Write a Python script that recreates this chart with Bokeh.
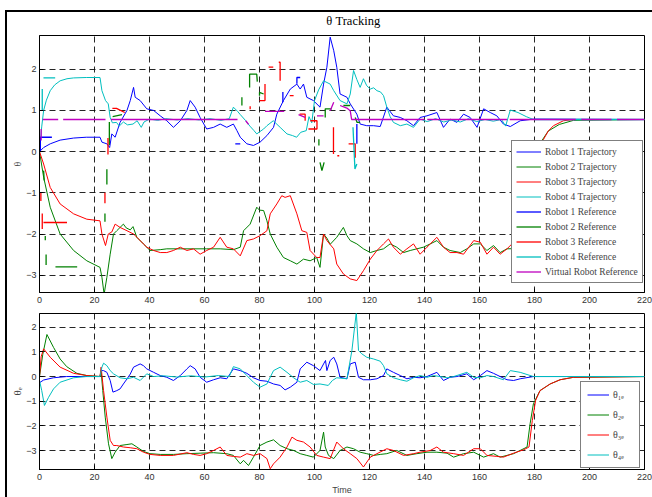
from bokeh.plotting import figure
from bokeh.layouts import column
from bokeh.models import Range1d, FixedTicker, Legend, LegendItem, Label
from bokeh.embed import file_html
from bokeh.resources import INLINE

# ---------------- data (time, value) ----------------
x_ticks = [0, 20, 40, 60, 80, 100, 120, 140, 160, 180, 200, 220]
y_ticks_top = [-3, -2, -1, 0, 1, 2]
y_ticks_bot = [-3, -2, -1, 0, 1, 2]

robot1_traj = [(0,0),(1.5,0.1),(3.9,0.19),(7.5,0.28),(12.4,0.33),(17,0.35),(22,0.35),(22.7,0.23),(24.5,0.19),(25.5,0.1),(26.3,0.43),(27.5,0.35),(29.3,0.71),(31.8,1.0),(33,1.24),(34.2,1.56),(34.8,1.32),(36.6,1.24),(39,1.04),(41.5,1.0),(43.9,0.87),(46.3,0.75),(48.7,0.59),(51.2,0.75),(53.6,1.0),(54.8,1.24),(56.6,1.08),(58.4,0.83),(60.8,0.55),(63.3,0.59),(65.7,0.67),(68.1,0.59),(70.5,0.67),(71.8,0.51),(73,0.35),(75.4,0.19),(77.8,0.15),(80.2,0.23),(82.7,0.39),(85.1,0.59),(86.3,0.91),(88.7,1.24),(91.2,1.52),(93.6,1.64),(94.8,1.52),(96,1.64),(97.2,1.32),(99.6,1.24),(102,1.08),(103.3,1.64),(104.5,2.05),(105.7,2.78),(107,2.45),(108.1,2.05),(109.3,1.4),(111.8,1.32),(113,1.16),(115.4,0.91),(116.6,0.67),(119,0.63),(121.5,0.63),(123.9,0.61),(126.3,1.08),(128.7,0.87),(131.2,0.83),(133.6,0.75),(136,0.63),(138.4,0.83),(140.9,0.87),(144.5,0.95),(146.9,0.59),(149.3,0.79),(151.8,0.71),(154.2,0.91),(156.6,0.83),(159.1,0.59),(161.5,1.04),(163.9,0.95),(166.3,0.87),(168.7,0.67),(171.2,0.61),(174.8,0.75),(179.6,0.79),(220,0.78)]

robot2_traj = [(0,0),(1.5,-0.62),(3.9,-1.35),(7.5,-2.0),(12.4,-2.4),(17.2,-2.65),(22,-2.81),(22.7,-3.05),(23.5,-3.46),(24.5,-3.05),(25.7,-2.49),(26.9,-2.0),(28.1,-1.92),(30.5,-1.76),(31.5,-1.85),(33,-1.9),(34,-1.82),(35.4,-2.08),(37.8,-2.24),(40.2,-2.4),(43.9,-2.38),(46.3,-2.36),(51.2,-2.36),(56,-2.36),(60.8,-2.36),(65.7,-2.36),(70.5,-2.38),(73,-2.32),(74.2,-1.92),(76.6,-1.76),(79,-1.35),(80,-1.42),(81.5,-1.43),(82.7,-1.68),(83.9,-2.0),(86.3,-2.32),(88.7,-2.57),(91.2,-2.65),(93.6,-2.73),(96,-2.61),(98.4,-2.65),(100.8,-2.57),(102,-2.81),(103.3,-2.0),(104.5,-2.1),(105.7,-2.25),(108.1,-2.08),(110.5,-1.84),(111.8,-2.04),(113,-2.16),(115.4,-2.24),(117.8,-2.36),(120.3,-2.45),(122.7,-2.4),(125.1,-2.36),(127.5,-2.24),(129.9,-2.32),(132.4,-2.45),(134.8,-2.4),(137.2,-2.36),(139.6,-2.32),(142.1,-2.24),(144.5,-2.16),(146.9,-2.32),(149.3,-2.4),(153,-2.45),(155.4,-2.36),(157.9,-2.24),(160.3,-2.24),(162.7,-2.4),(165.1,-2.28),(167.5,-2.45),(170,-2.36),(175,-2.35),(178,-2.3),(179.2,-1.2),(180.4,-0.4),(182,0.2),(185,0.5),(189,0.66),(194.2,0.76),(220,0.78)]

robot3_traj = [(0,0),(1.5,-0.3),(3.9,-0.87),(7.5,-1.27),(12.4,-1.51),(17.2,-1.64),(22,-1.68),(22.7,-2.0),(24,-2.28),(25,-2.0),(26.3,-1.95),(27.5,-1.76),(29.3,-1.84),(31.8,-1.92),(34.2,-2.0),(36.6,-2.16),(39,-2.32),(41.5,-2.4),(43.9,-2.45),(46.3,-2.45),(48.7,-2.4),(51.2,-2.32),(53.6,-2.4),(56,-2.36),(58.4,-2.49),(60.8,-2.4),(63.3,-2.32),(65.7,-2.08),(68.1,-2.32),(70.5,-2.36),(73,-2.53),(75.4,-2.16),(77.8,-2.12),(80.2,-2.04),(82.7,-1.92),(83.9,-1.51),(86.3,-1.27),(88.1,-1.07),(89.3,-1.11),(91.2,-1.07),(93.6,-1.51),(95.4,-1.92),(97.2,-1.96),(98.4,-2.4),(100.8,-2.57),(102,-2.57),(103.3,-2.0),(104.5,-2.16),(107,-2.36),(108.1,-2.73),(110.5,-2.97),(113,-3.09),(115.4,-3.13),(117.8,-2.89),(120.3,-2.61),(122.7,-2.4),(125.1,-2.24),(126.9,-2.12),(128.7,-2.32),(131.2,-2.49),(133.6,-2.36),(136,-2.24),(138.4,-2.49),(140.9,-2.32),(144.5,-2.08),(146.9,-2.32),(149.3,-2.45),(151.8,-2.45),(154.2,-2.49),(157.9,-2.16),(160.3,-2.2),(162.7,-2.49),(165.1,-2.32),(167.5,-2.49),(170,-2.36),(171.8,-2.24),(175,-2.3),(178,-2.25),(179.2,-1.0),(180.4,-0.2),(182,0.15),(183.3,0.3),(185,0.5),(186.9,0.63),(190.5,0.75),(194.2,0.78),(220,0.78)]

robot4_traj = [(0,0),(0.8,0.6),(1.5,1.0),(2.5,1.25),(3.9,1.48),(5.5,1.62),(7.5,1.72),(10,1.77),(12.4,1.79),(17,1.8),(22,1.8),(22.7,1.48),(24,1.24),(25,1.16),(25.7,0.83),(26.5,0.7),(28,0.71),(29,0.62),(30.5,0.72),(32,0.65),(34,0.67),(35.5,0.75),(37,0.59),(38,0.72),(40,0.79),(43,0.76),(46,0.8),(50,0.77),(54,0.8),(58,0.77),(62,0.8),(66,0.76),(69,0.8),(70.5,1.08),(72,0.98),(73,0.9),(75,0.75),(76.5,0.62),(78,0.51),(79,0.43),(80,0.48),(81.5,0.55),(82.7,0.63),(85,0.75),(87.5,0.59),(90,0.43),(92,0.39),(93.5,0.35),(95,0.47),(97,0.51),(98,0.85),(99,0.7),(100,1.24),(101.5,1.5),(103.3,1.72),(105.7,1.64),(107,1.48),(109.3,1.24),(111.8,1.16),(113,1.4),(114.2,1.97),(115.4,1.75),(116.6,1.56),(117.8,1.77),(119,1.6),(120.3,1.52),(121.5,1.55),(122.7,1.48),(124,1.45),(125.1,1.36),(126.3,1.08),(127.5,0.85),(128.7,0.71),(131.2,0.63),(133.6,0.67),(136,0.59),(138.4,0.79),(141,0.73),(144,0.8),(147,0.72),(150,0.77),(153,0.72),(156,0.8),(159,0.73),(162,0.78),(165,0.74),(168,0.78),(169.5,0.62),(171.2,1.01),(174,0.95),(177,0.85),(179.6,0.78),(220,0.78)]

# reference signals: only sampled in pieces (gaps between pieces)
robot1_ref = [[(0.3,0.0),(0.3,0.35),(4.5,0.35)],
              [(71.2,0.19),(73.0,0.19)],
              [(88.5,1.2),(88.5,1.45)],
              [(93.6,1.65),(93.6,1.8),(94.8,1.8)],
              [(115.4,0.67),(115.4,0.19)]]

robot2_ref = [[(1.5,-0.46),(1.7,-0.7)],
              [(2.1,-2.05),(2.1,-2.15)],
              [(2.4,-2.5),(2.4,-2.75)],
              [(5.8,-2.8),(13.7,-2.8)],
              [(23.8,-1.5),(23.8,-1.7)],
              [(24.5,-0.43),(24.5,-0.8)],
              [(25.4,0.16),(25.4,0.72)],
              [(26.6,0.85),(30.0,0.9)],
              [(73.6,1.12),(73.6,1.32)],
              [(76.4,1.56),(76.4,1.88),(79.0,1.88),(79.2,1.7)],
              [(80.0,1.36),(80.0,1.44),(81.5,1.4)],
              [(101.6,0.15),(101.6,0.3)],
              [(102.0,-0.26),(102.7,-0.46),(103.5,-0.26)],
              [(103.9,0.83),(103.9,1.04),(106.3,1.04)],
              [(110.5,1.12),(113.0,1.12)],
              [(114.8,0.83),(115.5,0.71),(116.6,0.71)]]

robot3_ref = [[(0.5,-1.0),(0.5,-1.2)],
              [(1.0,-1.5),(1.0,-1.88)],
              [(1.45,-1.72),(10.0,-1.72)],
              [(23.8,-1.0),(23.8,-1.25)],
              [(24.9,-0.07),(24.9,0.33)],
              [(26.5,1.05),(28.0,1.05),(31.0,0.95)],
              [(76.6,1.03),(76.6,1.1)],
              [(80.0,1.24),(82.0,1.24),(82.0,1.64)],
              [(83.3,2.05),(85.0,2.05)],
              [(87.0,2.17),(87.5,2.17),(87.5,1.72)],
              [(91.0,1.36),(92.4,1.36)],
              [(94.6,0.91),(96.6,0.91),(96.6,0.75)],
              [(97.8,0.55),(100.9,0.55),(100.9,0.75),(98.5,0.75)],
              [(106.9,0.59),(106.9,-0.06)],
              [(108.3,-0.1),(109.0,-0.1)],
              [(112.4,0.19),(114.8,0.19),(114.8,-0.15)]]

robot4_ref = [[(1.0,1.0),(1.0,1.52)],
              [(1.45,1.79),(5.7,1.79)],
              [(114.0,0.59),(114.7,-0.42),(115.4,-0.3)],
              [(180.0,0.78),(220.0,0.78)]]

virtual_ref = [[(0.6,0.27),(0.6,0.55)],
               [(1.2,0.78),(6.8,0.78)],
               [(8.6,0.78),(24.0,0.78)],
               [(26.0,0.78),(72.0,0.78)],
               [(75.0,0.75),(76.0,0.66)],
               [(82.0,0.98),(89.0,0.98)],
               [(94.2,0.9),(96.6,0.83)],
               [(100.9,0.87),(103.3,0.87)],
               [(105.7,0.99),(107.0,1.2)],
               [(109.3,1.12),(112.0,1.05),(113.0,0.99),(113.5,0.78),(140.0,0.78)],
               [(141.0,0.78),(170.0,0.78)],
               [(171.0,0.78),(195.0,0.78)],
               [(197.0,0.78),(208.0,0.78)],
               [(210.0,0.78),(220.0,0.78)]]

theta1e = [(0,-0.25),(1.5,-0.14),(5.1,-0.05),(9.9,0),(22,0),(22.6,0.24),(23.3,0.24),(24.5,0.17),(25.7,-0.16),(26.7,-0.63),(28.1,-0.57),(29.3,-0.5),(30.5,-0.3),(31.8,-0.1),(33,0.1),(34.2,0.38),(35.5,0.45),(36.6,0.51),(37.8,0.44),(39,0.31),(41.5,0.17),(43.9,0.04),(46.3,-0.03),(48.7,-0.16),(51.2,0.04),(53.6,0.31),(54.8,0.44),(56.6,0.31),(58.4,-0.03),(60.8,-0.23),(63.3,-0.13),(65.7,-0.05),(68.1,-0.09),(70.5,0.31),(73,0.24),(75.4,0.13),(77.8,-0.05),(80.2,-0.16),(82.7,-0.19),(85.1,-0.3),(87.5,-0.36),(89.3,-0.54),(91.2,-0.43),(93.6,-0.23),(94.8,0.31),(97.2,0.58),(99.6,0.44),(102,0.24),(103.3,0.51),(104,0.65),(104.5,0.24),(105.7,0.65),(107,0.78),(108.1,0.51),(109.3,-0.03),(111.8,-0.09),(113,0.51),(114.8,0.58),(116,-0.03),(117.8,-0.13),(120.3,-0.13),(122.7,-0.09),(125.1,0.04),(126.3,0.31),(128.7,0.17),(131.2,0.04),(133.6,-0.09),(136,-0.03),(138.4,-0.05),(140.9,0),(144.5,0.17),(146.9,-0.16),(149.3,-0.03),(151.8,0),(155.4,0.11),(157.9,-0.13),(160.3,0.04),(162.7,0.24),(165.1,0.13),(167.5,0),(170,-0.13),(172.4,-0.16),(174.8,-0.09),(179.6,0),(220,0)]

theta2e = [(0,0),(1.2,0.9),(2.7,1.7),(5.1,1.18),(7.5,0.71),(9.9,0.4),(13.6,0.13),(17.2,0.04),(22,0),(22.4,0.24),(23,-0.57),(23.9,-1.64),(25.1,-2.72),(26.3,-3.32),(27.5,-3.06),(29.3,-2.79),(31.8,-2.75),(33.6,-2.72),(35.4,-2.85),(37.8,-3.03),(40.2,-3.12),(43.9,-3.15),(48.7,-3.15),(53.6,-3.12),(58.4,-3.1),(63.3,-3.08),(68.1,-3.12),(70.5,-3.19),(73,-3.53),(74.2,-3.39),(76,-3.6),(77.8,-3.26),(80.2,-2.79),(82.7,-2.65),(85.1,-2.56),(87.5,-2.79),(90,-2.92),(92.4,-2.99),(94.8,-3.12),(97.2,-3.19),(99.6,-3.26),(102,-2.99),(103.3,-2.25),(103.9,-2.85),(105.1,-3.19),(107,-3.32),(109.3,-2.99),(111.8,-2.85),(114.2,-2.92),(116.6,-3.06),(119,-3.12),(121.5,-3.19),(123.9,-3.15),(126.3,-3.12),(129.9,-2.99),(133.6,-3.19),(137.2,-3.12),(140.9,-3.06),(144.5,-3.06),(148.2,-3.1),(150.6,-3.26),(154.2,-3.12),(157.9,-3.06),(161.5,-3.26),(165.1,-3.12),(167.5,-3.26),(172.4,-3.12),(177.3,-2.85),(178.4,-1.91),(179.6,-1.1),(182,-0.57),(185.7,-0.3),(189.3,-0.13),(194.2,-0.03),(220,0)]

theta3e = [(0,0),(0.6,0.8),(1.5,1.12),(3.9,0.78),(7.5,0.38),(12.4,0.13),(17.2,0.04),(22,0),(22.4,0.38),(23.3,-0.57),(24.5,-1.64),(25.7,-2.58),(26.9,-2.79),(28.1,-2.79),(30.5,-2.85),(33,-2.88),(35.4,-2.92),(37.8,-3.06),(40.2,-3.15),(43.9,-3.19),(48.7,-3.19),(53.6,-3.08),(56,-3.15),(58.4,-3.19),(60.8,-3.12),(63.3,-2.99),(65.7,-2.85),(68.1,-3.19),(70.5,-3.23),(73,-3.26),(75.4,-3.12),(77.8,-3.19),(80.2,-3.12),(82.7,-3.32),(83.9,-3.73),(85.1,-3.53),(87.5,-3.26),(90,-2.85),(91.8,-2.45),(93.6,-2.58),(96,-2.65),(98.4,-2.85),(100.8,-3.19),(103.3,-3.26),(105.7,-3.32),(108.1,-2.65),(110.5,-2.92),(113,-3.12),(115.4,-3.32),(117.8,-3.66),(120.3,-3.26),(122.7,-3.12),(126.3,-2.92),(128.7,-2.99),(132.4,-3.19),(136,-3.12),(138.4,-3.06),(142.1,-2.99),(144.5,-2.85),(146.9,-3.06),(150.6,-3.12),(154.2,-3.19),(157.9,-2.92),(160.3,-2.92),(162.7,-3.19),(166.3,-3.23),(168.7,-3.26),(172.4,-3.1),(176.1,-2.96),(178,-2.85),(179.2,-1.78),(180.4,-0.97),(182,-0.57),(185.7,-0.3),(189.3,-0.13),(194.2,-0.03),(220,0)]

theta4e = [(0,-0.16),(0.8,-0.56),(1.8,-1.17),(3.3,-0.84),(5.1,-0.5),(7.5,-0.23),(12.4,-0.05),(17,0),(22,0),(22.7,0.38),(23.3,0.54),(24.5,0.44),(25.7,0.24),(26.9,0.11),(29.3,-0.05),(31.8,-0.09),(34.2,-0.03),(36.6,-0.16),(39,0.11),(41.5,0),(45,0.03),(50,-0.02),(55,0.03),(60,-0.02),(65,0.04),(69,0),(70.5,0.4),(73,0.31),(75.4,0.04),(77.8,-0.23),(80.2,-0.43),(82.7,-0.3),(85.1,0.24),(87.5,0.38),(90,0.17),(92.4,-0.05),(94.8,-0.23),(97.2,-0.16),(99.6,-0.32),(102,-0.3),(105,-0.36),(106.5,-0.16),(108.1,-0.05),(111.8,-0.09),(113.6,1.05),(115.2,2.6),(116,1.05),(117.2,0.92),(119,0.78),(121.5,0.71),(123.9,0.62),(125.1,0.44),(126.3,0.11),(128.7,-0.05),(131.2,-0.13),(133.6,-0.19),(136,-0.05),(138.4,0.04),(140.9,-0.03),(143.3,0.04),(145.7,0),(148.2,-0.05),(150.6,0),(155.4,0.17),(157.9,-0.03),(160.3,-0.05),(162.7,0.04),(165.1,0),(168.7,-0.13),(171.2,0.24),(174.8,0.17),(179.6,0),(220,0)]

top_labels = ["Robot 1 Trajectory", "Robot 2 Trajectory", "Robot 3 Trajectory", "Robot 4 Trajectory",
              "Robot 1 Reference", "Robot 2 Reference", "Robot 3 Reference", "Robot 4 Reference",
              "Virtual Robot Reference"]
bottom_labels = ["θ₁ₑ", "θ₂ₑ", "θ₃ₑ", "θ₄ₑ"]
title_text = "θ Tracking"
top_ylabel = "θ"
bottom_ylabel = "θₑ"
bottom_xlabel = "Time"

BLUE, GREEN, RED, CYAN, MAGENTA = "#0000ff", "#008000", "#ff0000", "#00bfbf", "#bf00bf"
SERIF = "Liberation Serif"
SANS = "Liberation Sans"
NAN = float("nan")
W = 645


def xy(pairs):
    return [a for a, _ in pairs], [b for _, b in pairs]


def xy_pieces(pieces):
    xs, ys = [], []
    for seg in pieces:
        if xs:
            xs.append(NAN)
            ys.append(NAN)
        xs += [a for a, _ in seg]
        ys += [b for _, b in seg]
    return xs, ys


def style(p, yticks):
    p.xaxis.ticker = FixedTicker(ticks=x_ticks)
    p.yaxis.ticker = FixedTicker(ticks=yticks)
    for ax in (p.xaxis[0], p.yaxis[0]):
        ax.major_label_text_font = SANS
        ax.major_label_text_font_size = "9px"
        ax.major_label_text_color = "#333333"
        ax.major_tick_in = 4
        ax.major_tick_out = 0
        ax.minor_tick_in = 0
        ax.minor_tick_out = 0
        ax.axis_line_color = "black"
        ax.major_tick_line_color = "black"
        ax.major_label_standoff = 4
        ax.axis_label_text_font_style = "normal"
    p.yaxis.major_label_standoff = 3
    p.yaxis.axis_label_text_font = SERIF
    p.yaxis.axis_label_standoff = 0
    p.yaxis.axis_label_text_line_height = 0.8
    for g in (p.xgrid[0], p.ygrid[0]):
        g.grid_line_color = "black"
        g.grid_line_dash = "6 4"
        g.grid_line_alpha = 0.85
    p.outline_line_color = "black"
    p.outline_line_width = 1
    p.background_fill_color = "white"
    p.border_fill_color = "white"


# ---------------- title strip ----------------
head = figure(width=W, height=23, x_range=Range1d(0, W), y_range=Range1d(0, 23),
              output_backend="svg", toolbar_location=None, x_axis_location=None, y_axis_location=None,
              min_border=0, outline_line_color=None)
head.grid.visible = False
head.add_layout(Label(x=334.5, y=15, text=title_text, text_align="center", text_baseline="middle",
                      text_font=SERIF, text_font_size="12.5px", text_color="black"))

# ---------------- top plot ----------------
p1 = figure(width=W, height=273, x_range=Range1d(0, 220), y_range=Range1d(-3.42, 2.82),
            output_backend="svg", toolbar_location=None,
            min_border_left=32, min_border_right=8, min_border_top=0, min_border_bottom=16)
style(p1, y_ticks_top)
p1.yaxis.axis_label = top_ylabel
p1.yaxis.axis_label_text_font_size = "10px"

renderers = []
for data, col in [(robot1_traj, BLUE), (robot2_traj, GREEN), (robot3_traj, RED), (robot4_traj, CYAN)]:
    x, y = xy(data)
    renderers.append(p1.line(x, y, line_color=col, line_width=1))
for data, col in [(robot1_ref, BLUE), (robot2_ref, GREEN), (robot3_ref, RED), (robot4_ref, CYAN), (virtual_ref, MAGENTA)]:
    x, y = xy_pieces(data)
    renderers.append(p1.line(x, y, line_color=col, line_width=1.3))

leg1 = Legend(items=[LegendItem(label=l, renderers=[r]) for l, r in zip(top_labels, renderers)],
              location=(472, 9))
leg1.label_text_font = SERIF
leg1.label_text_font_size = "9.5px"
leg1.glyph_width = 25
leg1.glyph_height = 13
leg1.label_height = 13
leg1.label_standoff = 4
leg1.spacing = 2
leg1.padding = 4
leg1.margin = 0
leg1.border_line_color = "black"
leg1.border_line_width = 1
leg1.background_fill_alpha = 1
p1.add_layout(leg1)

# ---------------- bottom plot ----------------
p2 = figure(width=W, height=189, x_range=Range1d(0, 220), y_range=Range1d(-3.76, 2.55),
            output_backend="svg", toolbar_location=None,
            min_border_left=32, min_border_right=8, min_border_top=5, min_border_bottom=28)
style(p2, y_ticks_bot)
p2.yaxis.axis_label = bottom_ylabel
p2.yaxis.axis_label_text_font_size = "11px"
p2.xaxis.axis_label = bottom_xlabel
p2.xaxis.axis_label_text_font = SANS
p2.xaxis.axis_label_text_font_size = "9px"
p2.xaxis.axis_label_standoff = 2

rend2 = []
for data, col in [(theta1e, BLUE), (theta2e, GREEN), (theta3e, RED), (theta4e, CYAN)]:
    x, y = xy(data)
    rend2.append(p2.line(x, y, line_color=col, line_width=1))

leg2 = Legend(items=[LegendItem(label=l, renderers=[r]) for l, r in zip(bottom_labels, rend2)],
              location=(541, 1))
leg2.label_text_font = SERIF
leg2.label_text_font_size = "10px"
leg2.glyph_width = 22
leg2.glyph_height = 13
leg2.label_height = 13
leg2.label_standoff = 4
leg2.spacing = 7
leg2.padding = 6
leg2.margin = 0
leg2.border_line_color = "black"
leg2.border_line_width = 1
leg2.background_fill_alpha = 1
p2.add_layout(leg2)

layout = column(head, p1, p2, styles={"margin-left": "5px", "margin-top": "10px",
                                      "border-left": "2px solid black", "border-top": "2px solid black",
                                      "background": "white"})

open("out.html", "w").write(file_html(layout, INLINE))
